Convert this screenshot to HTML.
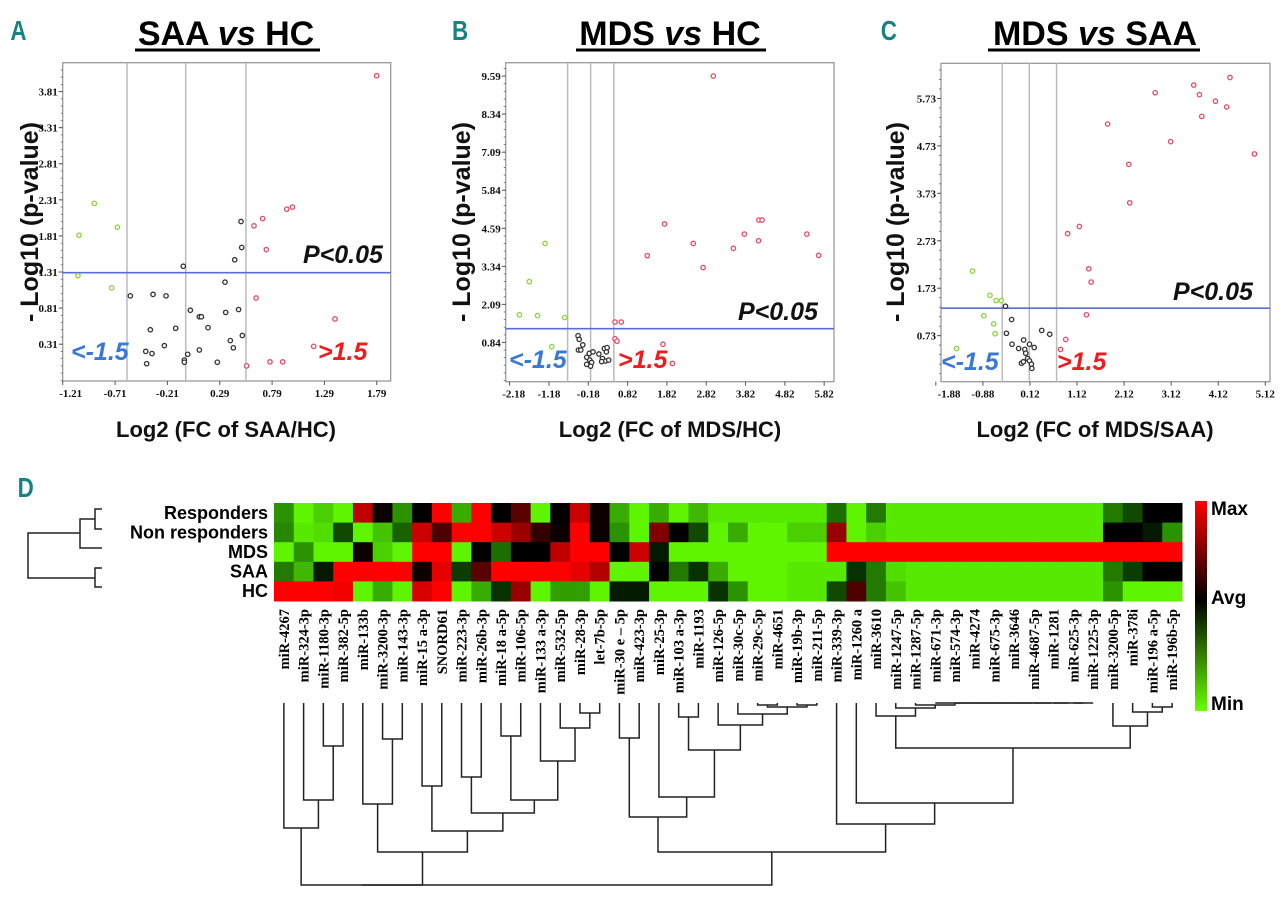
<!DOCTYPE html>
<html><head><meta charset="utf-8"><title>miRNA volcano plots and heatmap</title>
<style>
html,body{margin:0;padding:0;background:#fff;}
svg{display:block;}
.tk{font-family:"Liberation Serif",serif;font-weight:bold;font-size:11px;fill:#111;}
.ttl{font-family:"Liberation Sans",sans-serif;font-weight:bold;font-size:34px;fill:#000;}
.ax{font-family:"Liberation Sans",sans-serif;font-weight:bold;font-size:22px;fill:#111;}
.yax{font-family:"Liberation Sans",sans-serif;font-weight:bold;font-size:25px;fill:#111;}
.ann{font-family:"Liberation Sans",sans-serif;font-weight:bold;font-style:italic;font-size:25px;}
.let{font-family:"Liberation Sans",sans-serif;font-weight:bold;font-size:28px;fill:#158383;}
.row{font-family:"Liberation Sans",sans-serif;font-weight:bold;font-size:18px;fill:#000;}
.col{font-family:"Liberation Serif",serif;font-weight:bold;font-size:14.5px;fill:#000;}
.cb{font-family:"Liberation Sans",sans-serif;font-weight:bold;font-size:19px;fill:#000;}
</style></head>
<body>
<svg id="fig" width="1280" height="906" viewBox="0 0 1280 906" xmlns="http://www.w3.org/2000/svg">
<defs>
<linearGradient id="cbg" x1="0" y1="0" x2="0" y2="1">
<stop offset="0" stop-color="#ff0000"/><stop offset="0.47" stop-color="#000000"/><stop offset="1" stop-color="#66ff00"/>
</linearGradient>
</defs>
<text class="let" x="13" y="40" transform="scale(0.8,1)">A</text>
<text class="let" x="565" y="40" transform="scale(0.8,1)">B</text>
<text class="let" x="1101" y="40" transform="scale(0.8,1)">C</text>
<text class="let" x="22" y="497" transform="scale(0.8,1)">D</text>
<g id="plots"></g>
<g id="heat"></g>
<g id="dendro"></g>
<g stroke="#222" stroke-width="1.5" fill="none">
<path d="M102,509 H95 V529 H102 M95,519 H80 V548 H102 M80,533 H28 V578 H95 M102,568 H95 V587 H102"/>
</g>
<g>
<rect x="1195" y="501" width="12" height="210" fill="url(#cbg)"/>
<text class="cb" x="1211" y="515">Max</text>
<text class="cb" x="1211" y="604">Avg</text>
<text class="cb" x="1211" y="710">Min</text>
</g>
</svg>
<script>
// ---------- Panel A data: SAA vs HC ----------
const aGreenX=[-0.908,-1.054,-0.688,-1.064,-0.742];
const aGreenY=[2.26,1.82,1.93,1.26,1.09];
const aRedX=[1.789,0.984,0.93,0.70,0.617,0.735,0.637,1.391,1.187,0.891,0.77,0.547];
const aRedY=[4.03,2.21,2.18,2.05,1.95,1.62,0.95,0.66,0.28,0.065,0.065,0.01];
const aBlackX=[0.493,0.50,0.433,-0.058,0.34,-0.564,-0.347,-0.223,0.009,0.095,0.115,0.47,0.347,-0.373,-0.131,0.178,0.506,0.391,0.42,-0.239,-0.417,-0.357,-0.408,-0.048,-0.048,-0.016,0.095,0.267];
const aBlackY=[2.01,1.65,1.48,1.39,1.17,0.98,1.0,0.98,0.78,0.69,0.69,0.79,0.75,0.51,0.53,0.54,0.43,0.36,0.26,0.29,0.21,0.18,0.04,0.09,0.06,0.17,0.23,0.06];
const aXTicks=[-1.21,-0.71,-0.21,0.29,0.79,1.29,1.79];
const aYTicks=[0.31,0.81,1.31,1.81,2.31,2.81,3.31,3.81];
// ---------- Panel B data: MDS vs HC ----------
const bRedX=[3.0,1.76,2.49,4.16,4.24,3.79,5.38,4.15,3.51,1.32,5.68,2.74,0.50,0.66,0.50,0.55,1.72,1.96];
const bRedY=[9.59,4.73,4.09,4.86,4.86,4.40,4.40,4.18,3.93,3.69,3.70,3.30,1.51,1.51,0.96,0.88,0.78,0.15];
const bGreenX=[-1.28,-1.68,-1.93,-1.47,-0.78,-1.11];
const bGreenY=[4.09,2.84,1.75,1.72,1.66,0.70];
const bBlackX=[-0.44,-0.41,-0.32,-0.43,-0.37,-0.155,-0.06,-0.22,-0.14,-0.095,-0.22,-0.12,0.09,0.23,0.30,0.28,0.18,0.26,0.34,0.16];
const bBlackY=[1.06,0.94,0.76,0.59,0.59,0.48,0.53,0.35,0.26,0.18,0.12,0.06,0.46,0.64,0.67,0.53,0.31,0.23,0.26,0.21];
const bXTicks=[-2.18,-1.18,-0.18,0.82,1.82,2.82,3.82,4.82,5.82];
const bYTicks=[0.84,2.09,3.34,4.59,5.84,7.09,8.34,9.59];
// ---------- Panel C data: MDS vs SAA ----------
const cRedX=[4.37,3.60,2.78,3.72,4.06,4.30,3.77,1.77,3.11,4.89,2.22,2.24,1.17,0.92,1.37,1.42,1.32,0.88,0.77];
const cRedY=[6.17,6.01,5.85,5.81,5.67,5.55,5.35,5.19,4.82,4.56,4.34,3.53,3.03,2.88,2.14,1.86,1.17,0.65,0.44];
const cGreenX=[-1.10,-0.73,-0.60,-0.49,-0.86,-0.65,-0.62,-1.44];
const cGreenY=[2.09,1.58,1.47,1.47,1.15,0.98,0.77,0.46];
const cBlackX=[-0.40,-0.27,-0.38,0.37,0.54,-0.015,-0.26,-0.12,0.11,0.21,0.01,0.03,0.07,0.11,-0.06,-0.02,0.15,0.16];
const cBlackY=[1.35,1.07,0.78,0.84,0.76,0.64,0.55,0.46,0.55,0.48,0.44,0.36,0.25,0.20,0.15,0.18,0.13,0.04];
const cXTicks=[-1.88,-0.88,0.12,1.12,2.12,3.12,4.12,5.12];
const cYTicks=[0.73,1.73,2.73,3.73,4.73,5.73];
// ---------- Heatmap data (-1 = min/green, 0 = avg/black, 1 = max/red) ----------
const rowNames=["Responders","Non responders","MDS","SAA","HC"];
const colNames=["miR-4267","miR-324-3p","miR-1180-3p","miR-382-5p","miR-133b","miR-3200-3p","miR-143-3p","miR-15 a-3p","SNORD61","miR-223-3p","miR-26b-3p","miR-18 a-5p","miR-106-5p","miR-133 a-3p","miR-532-5p","miR-28-3p","let-7b-5p","miR-30 e \u2013 5p","miR-423-3p","miR-25-3p","miR-103 a-3p","miR-1193","miR-126-5p","miR-30c-5p","miR-29c-5p","miR-4651","miR-19b-3p","miR-211-5p","miR-339-3p","miR-1260 a","miR-3610","miR-1247-5p","miR-1287-5p","miR-671-3p","miR-574-3p","miR-4274","miR-675-3p","miR-3646","miR-4687-5p","miR-1281","miR-625-3p","miR-1225-3p","miR-3200-5p","miR-378i","miR-196 a-5p","miR-196b-5p"];
const valResponders=[-0.6,-1,-0.85,-1,0.75,0.05,-0.6,0,1,-0.7,1,0,0.35,-1,0,0.8,0.05,-0.7,-1,-0.7,-1,-0.75,-0.95,-0.95,-0.95,-0.95,-0.95,-0.95,-0.45,-1,-0.5,-0.95,-0.95,-0.95,-0.95,-0.95,-0.95,-0.95,-0.95,-0.95,-0.95,-0.95,-0.5,-0.3,0,0];
const valNonResponders=[-0.55,-0.95,-0.9,-0.3,-1,-0.8,-0.4,0.8,0.3,1,1,0.8,0.6,0.2,0.05,1,0.05,-0.6,-1,0.5,0,-0.3,-1,-0.7,-1,-1,-0.85,-0.85,0.6,-1,-0.85,-0.95,-0.95,-0.95,-0.95,-0.95,-0.95,-0.95,-0.95,-0.95,-0.95,-0.95,0,0,-0.1,-0.6];
const valMDS=[-1,-0.6,-1,-1,0.05,-0.85,-1,1,1,-1,0,-0.45,0,0,0.75,1,1,0,0.8,-0.1,-1,-1,-1,-1,-1,-1,-1,-1,1,1,1,1,1,1,1,1,1,1,1,1,1,1,1,1,1,1];
const valSAA=[-0.5,-0.75,-0.1,1,1,1,1,0.05,0.9,-0.25,0.35,1,1,1,1,0.9,0.7,-1,-1,0,-0.5,-0.2,-0.7,-1,-1,-1,-0.95,-0.95,-0.95,-0.2,-0.5,-0.9,-0.95,-0.95,-0.95,-0.95,-0.95,-0.95,-0.95,-0.95,-0.95,-0.95,-0.5,-0.25,0,0];
const valHC=[1,1,1,0.95,-1,-0.7,-1,0.85,1,-1,-0.7,-0.2,0.6,-1,-0.65,-0.65,-1,-0.1,-0.1,-1,-1,-1,-0.2,-0.6,-1,-1,-0.95,-0.95,-0.3,0.3,-0.5,-0.8,-0.95,-0.95,-0.95,-0.95,-0.95,-0.95,-0.95,-0.95,-0.95,-0.95,-0.6,-1,-1,-1];
// ---------- Column dendrogram: [left, right, mergeHeight(px)] ----------
const dendroTree=[[[0,[1,[2,3,746],800],828],[[4,[5,6,739],804],[[7,8,786],[[9,10,777],[[11,12,736],[13,[14,[15,16,713],728],761],800],813],831],852],885],
 [[[17,18,738],[19,[[20,21,717],[22,[23,[[24,25,705],[26,27,705],707],714],725],750],797],817],
  [28,[29,[[30,[31,[32,[33,[34,[35,[36,[37,[38,[39,[40,41,703],703],703],703],703],703],703],703],705],708],716],[42,[43,[44,45,707],712],726],748],803],824],852],885];

const NS="http://www.w3.org/2000/svg";
function mk(tag,attrs,parent){const e=document.createElementNS(NS,tag);for(const k in attrs)e.setAttribute(k,attrs[k]);parent.appendChild(e);return e;}

function panel(cfg){
  const g=mk('g',{},document.getElementById('plots'));
  
  
  const L=cfg.L,R=cfg.R,T=cfg.T,B=cfg.B;
  const sx=v=>L+(v-cfg.x0)/(cfg.x1-cfg.x0)*(R-L);
  const sy=v=>B-(v-cfg.y0)/(cfg.y1-cfg.y0)*(B-T);
  const t=mk('text',{class:'ttl',x:cfg.tx,y:45,'text-anchor':'middle'},g);
  
  
  const s1=mk('tspan',{},t);s1.textContent=cfg.t1+' ';
  const s2=mk('tspan',{'font-style':'italic'},t);s2.textContent='vs';
  const s3=mk('tspan',{},t);s3.textContent=' '+cfg.t2;
  const ul=mk('rect',{x:cfg.ux0,y:48.5,width:cfg.ux1-cfg.ux0,height:3,fill:'#000'},g);
  
  
  const fr=mk('rect',{x:L,y:T,width:R-L,height:B-T,fill:'#fff',stroke:'#999','stroke-width':1.3},g);
  
  
  cfg.vl.forEach(v=>{const l=mk('line',{x1:sx(v),x2:sx(v),y1:T,y2:B,stroke:'#bbb','stroke-width':1.5},g);
    
    });
  const step=cfg.yt[1]-cfg.yt[0];
  for(let v=cfg.yt[0]-step;v<=cfg.y1;v+=step/5){ if(v<cfg.y0)continue;
    mk('line',{x1:L-2,x2:L,y1:sy(v),y2:sy(v),stroke:'#666','stroke-width':0.8},g);}
  cfg.yt.forEach(v=>{mk('line',{x1:L-4,x2:L,y1:sy(v),y2:sy(v),stroke:'#555','stroke-width':1},g);
    const tx=mk('text',{class:'tk',x:L-5,y:sy(v)+4,'text-anchor':'end'},g);
    
    
    tx.textContent=v.toFixed(2);});
  cfg.xt.forEach(v=>{mk('line',{x1:sx(v),x2:sx(v),y1:B,y2:B+4,stroke:'#555','stroke-width':1},g);
    const tx=mk('text',{class:'tk',x:Math.max(sx(v),L+8),y:B+16,'text-anchor':'middle'},g);
    
    
    tx.textContent=v.toFixed(2);});
  const hl=mk('line',{x1:L,x2:R,y1:sy(cfg.hl),y2:sy(cfg.hl),stroke:'#5a6be0','stroke-width':1.6},g);
  
  
  const sets=[[cfg.bx,cfg.by,'#333','not-significant-point'],[cfg.gx,cfg.gy,'#8ad43c','down-regulated-point'],[cfg.rx,cfg.ry,'#e64a63','up-regulated-point']];
  sets.forEach(([xs,ys,c,n])=>{xs.forEach((x,i)=>{const p=mk('circle',{cx:sx(x),cy:sy(ys[i]),r:2.2,fill:'#fff',stroke:c,'stroke-width':1.3},g);
    
    });});
  const a1=mk('text',{class:'ann',x:cfg.px,y:cfg.py,fill:'#111'},g);a1.textContent='P<0.05';
  
  
  const a2=mk('text',{class:'ann',x:cfg.dx,y:cfg.dy,fill:'#3a78d8'},g);a2.textContent='<-1.5';
  
  
  const a3=mk('text',{class:'ann',x:cfg.ux,y:cfg.dy,fill:'#ee1c1c'},g);a3.textContent='>1.5';
  
  
  const xt=mk('text',{class:'ax',x:cfg.tx,y:437,'text-anchor':'middle'},g);xt.textContent=cfg.xlab;
  
  
  const yt=mk('text',{class:'yax',x:0,y:0,'text-anchor':'middle',transform:`translate(${cfg.yx},222) rotate(-90)`},g);yt.textContent='- Log10 (p-value)';
  
  
}

panel({name:'volcano-saa-vs-hc',L:62.7,R:390.7,T:62.7,B:381,x0:-1.21,x1:1.923,y0:-0.20,y1:4.21,
 xt:aXTicks,yt:aYTicks,vl:[-0.596,-0.035,0.54],hl:1.30,gx:aGreenX,gy:aGreenY,rx:aRedX,ry:aRedY,bx:aBlackX,by:aBlackY,
 t1:'SAA',t2:'HC',tx:226,ux0:135,ux1:320,px:303,py:263,dx:71,dy:360,ux:318,xlab:'Log2 (FC of SAA/HC)',yx:38});
panel({name:'volcano-mds-vs-hc',L:505.7,R:834,T:62.7,B:381.7,x0:-2.28,x1:6.07,y0:-0.45,y1:10.03,
 xt:bXTicks,yt:bYTicks,vl:[-0.705,-0.12,0.47],hl:1.29,gx:bGreenX,gy:bGreenY,rx:bRedX,ry:bRedY,bx:bBlackX,by:bBlackY,
 t1:'MDS',t2:'HC',tx:670,ux0:576,ux1:766,px:738,py:320,dx:509,dy:368,ux:618,xlab:'Log2 (FC of MDS/HC)',yx:470});
panel({name:'volcano-mds-vs-saa',L:941,R:1270,T:63.3,B:381.7,x0:-1.77,x1:5.22,y0:-0.24,y1:6.47,
 xt:cXTicks,yt:cYTicks,vl:[-0.468,0.106,0.686],hl:1.31,gx:cGreenX,gy:cGreenY,rx:cRedX,ry:cRedY,bx:cBlackX,by:cBlackY,
 t1:'MDS',t2:'SAA',tx:1095,ux0:988,ux1:1200,px:1173,py:300,dx:941,dy:370,ux:1057,xlab:'Log2 (FC of MDS/SAA)',yx:904});

const HX0=274,HX1=1182,HY0=503,HY1=601;
const cw=(HX1-HX0)/colNames.length, rh=(HY1-HY0)/rowNames.length;
const colX=i=>HX0+i*cw, rowY=j=>HY0+j*rh;
function col(v){v=Math.max(-1,Math.min(1,v));
  if(v>=0)return `rgb(${Math.round(255*v)},0,0)`;
  const a=-v;return `rgb(${Math.round(95*Math.pow(a,1.5))},${Math.round(245*a)},0)`;}
const heat=document.getElementById('heat');
const rows=[valResponders,valNonResponders,valMDS,valSAA,valHC];
rows.forEach((vals,j)=>{
  const lab=mk('text',{class:'row',x:268,y:rowY(j)+rh/2+6,'text-anchor':'end'},heat);
  
  
  lab.textContent=rowNames[j];
  vals.forEach((v,i)=>{const r=mk('rect',{x:colX(i),y:rowY(j),width:cw+0.5,height:rh+0.5,fill:col(v)},heat);
    
    });
});
colNames.forEach((n,i)=>{const cx=colX(i)+cw/2;
  const t=mk('text',{class:'col','text-anchor':'end',transform:`translate(${cx+5},609) rotate(-90)`},heat);
  
  
  t.textContent=n;});

const dg=document.getElementById('dendro');
const LEAFY=703;
function drawNode(n){
  if(typeof n==='number')return {x:colX(n)+cw/2,y:LEAFY};
  const a=drawNode(n[0]),b=drawNode(n[1]),h=n[2];
  const p=mk('path',{d:`M${a.x},${a.y} V${h} H${b.x} V${b.y}`,fill:'none',stroke:'#222','stroke-width':1.5},dg);
  
  
  return {x:(a.x+b.x)/2,y:h};
}
drawNode(dendroTree);
</script>
</body></html>
